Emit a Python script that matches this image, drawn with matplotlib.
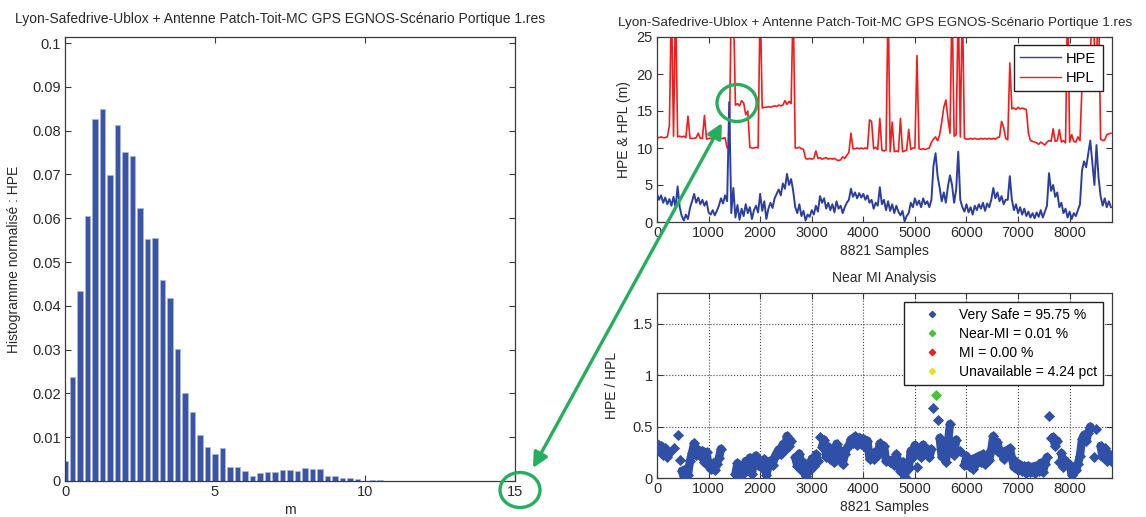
import numpy as np
import matplotlib
matplotlib.use('Agg')
import matplotlib.pyplot as plt
from matplotlib.patches import Ellipse, FancyArrowPatch
from matplotlib.lines import Line2D

plt.rcParams['font.family'] = ['Liberation Sans', 'DejaVu Sans']

TITLE = 'Lyon-Safedrive-Ublox + Antenne Patch-Toit-MC GPS EGNOS-Scénario Portique 1.res'

# ---------------- data ----------------
hist_bin_width = 0.25
hist_vals = [0.0046, 0.0237, 0.0434, 0.0605, 0.0827, 0.0849, 0.0698, 0.0812, 0.0751, 0.0742,
             0.0624, 0.0553, 0.0556, 0.0458, 0.0417, 0.0302, 0.0202, 0.0158, 0.0105, 0.0078,
             0.0061, 0.0076, 0.0031, 0.0033, 0.0022, 0.0012, 0.0018, 0.0020, 0.0020, 0.0025,
             0.0025, 0.0022, 0.0030, 0.0028, 0.0028, 0.0012, 0.0012, 0.0007, 0.0007, 0.0005,
             0.0001, 0.0002, 0.0002]
hist_yticklabels = ['0', '0.01', '0.02', '0.03', '0.04', '0.05', '0.06', '0.07', '0.08', '0.09', '0.1']

n_samples = 8821
sample_step = 40
hpe = [3.8, 3.0, 3.6, 2.6, 3.3, 2.4, 3.1, 2.2, 3.4, 2.0,
       4.8, 2.0, 0.8, 0.2, 1.0, 0.4, 1.9, 2.8, 3.8, 2.6,
       3.3, 2.4, 3.0, 2.2, 2.8, 1.3, 1.0, 1.6, 0.9, 1.5,
       2.2, 3.2, 2.5, 3.6, 2.8, 16.2, 1.2, 4.6, 0.6, 2.3,
       0.3, 1.8, 0.8, 2.4, 1.2, 2.0, 0.4, 1.6, 2.2, 1.3,
       3.8, 1.5, 2.8, 0.4, 1.8, 2.6, 1.9, 3.2, 3.8, 4.4,
       3.6, 5.2, 4.5, 6.5, 5.0, 5.8, 4.2, 2.0, 1.2, 2.4,
       0.8, 1.5, 0.2, 1.0, 0.7, 1.6, 1.0, 2.2, 1.4, 3.5,
       2.6, 3.2, 1.8, 2.6, 1.6, 2.4, 1.3, 2.8, 1.8, 2.2,
       1.2, 2.0, 2.6, 3.0, 4.5, 3.4, 4.0, 3.2, 3.9, 3.3,
       3.8, 3.0, 3.6, 2.6, 3.0, 1.8, 2.6, 2.2, 4.7, 2.4,
       3.0, 1.6, 2.8, 1.5, 2.4, 1.2, 2.2, 1.4, 0.9, 1.5,
       0.1, 0.8, 1.2, 2.6, 2.0, 3.2, 2.3, 2.9, 2.0, 3.2,
       2.4, 2.8, 2.0, 3.0, 7.6, 9.3, 6.2, 4.6, 2.8, 4.0,
       2.6, 4.8, 6.3, 5.0, 2.6, 4.4, 9.5, 3.0, 2.0, 1.4,
       2.4, 1.3, 2.0, 1.0, 2.2, 1.6, 2.4, 1.8, 2.6, 1.5,
       2.5, 2.0, 3.0, 4.6, 3.2, 4.0, 2.8, 3.5, 2.4, 3.0,
       3.0, 6.2, 3.0, 1.6, 2.4, 1.2, 2.0, 1.0, 1.8, 0.8,
       1.4, 0.6, 1.2, 0.5, 1.3, 0.7, 1.6, 0.6, 1.4, 2.2,
       6.6, 4.2, 5.0, 3.4, 4.0, 2.0, 2.6, 1.2, 1.8, 0.6,
       1.4, 0.4, 1.2, 0.8, 1.6, 2.4, 7.0, 8.2, 7.4, 9.2,
       11.0, 8.0, 5.0, 10.4, 6.0, 3.5, 2.2, 3.2, 2.0, 2.8,
       2.0]
hpl = [11.4, 11.4, 11.5, 11.4, 11.4, 11.5, 13.0, 30.0, 11.6, 30.0,
       11.5, 11.6, 11.5, 11.6, 11.4, 14.3, 11.3, 11.3, 11.3, 11.4,
       12.0, 11.3, 11.3, 14.4, 11.2, 11.3, 11.3, 11.3, 11.3, 11.4,
       11.3, 11.3, 11.3, 11.4, 10.0, 10.0, 30.0, 30.0, 15.8, 16.0,
       15.7, 16.4, 16.1, 14.5, 15.0, 10.1, 10.0, 10.0, 10.1, 10.0,
       30.0, 15.4, 15.5, 15.5, 15.6, 15.5, 15.6, 15.7, 15.6, 15.8,
       15.7, 15.8, 16.4, 15.9, 16.3, 16.0, 30.0, 10.0, 10.0, 10.1,
       9.9, 9.8, 8.6, 8.5, 8.6, 8.5, 8.6, 9.6, 8.6, 8.7,
       8.5, 8.6, 8.7, 8.5, 8.6, 8.5, 8.6, 8.4, 8.3, 8.4,
       8.8, 8.6, 9.0, 9.4, 12.0, 9.9, 9.9, 10.0, 9.9, 10.0,
       9.9, 10.0, 9.9, 13.8, 13.6, 9.9, 10.1, 9.8, 14.0, 9.7,
       9.6, 9.7, 30.0, 9.5, 13.5, 9.5, 9.6, 9.5, 14.0, 9.5,
       9.6, 9.7, 12.5, 9.8, 10.0, 10.0, 22.5, 9.9, 9.8, 9.9,
       9.8, 9.9, 10.0, 10.8, 11.2, 11.5, 11.0, 11.8, 13.5, 15.5,
       16.5, 14.0, 12.0, 30.0, 11.6, 11.8, 30.0, 11.5, 30.0, 11.3,
       11.2, 11.2, 11.3, 11.2, 11.3, 11.2, 11.2, 11.3, 11.2, 11.3,
       11.2, 11.3, 11.2, 11.3, 11.2, 11.4, 11.5, 13.6, 12.8, 11.3,
       11.1, 21.5, 15.3, 15.4, 15.2, 15.5, 15.3, 15.4, 15.3, 15.2,
       12.0, 11.0, 10.9, 10.8, 10.7, 10.5, 10.8, 10.6, 10.4, 10.8,
       11.0, 10.9, 12.6, 10.9, 11.0, 12.5, 10.8, 11.0, 10.7, 30.0,
       10.8, 11.8, 10.9, 10.8, 11.5, 11.0, 18.5, 19.5, 20.5, 21.0,
       22.0, 30.0, 24.0, 22.0, 30.0, 11.2, 11.0, 11.1, 11.8, 11.9,
       12.0]
unavailable_ranges = [(1250, 1460)]
hpl_unavailable_above = 25.0
near_mi_ratio = 0.75
mi_ratio = 1.0
legend_near_mi = ['Very Safe = 95.75 %', 'Near-MI = 0.01 %', 'MI = 0.00 %', 'Unavailable = 4.24 pct']

# ---------------- figure ----------------
W, H = 1146, 517
fig = plt.figure(figsize=(W / 100, H / 100), dpi=100)
AX_COL = '#3a3a3a'
TXT = '#2a2a2a'
BAR = '#3B54A5'
BLUE = '#2C3F9E'
RED = '#F21C1C'
GREEN = '#25AE5E'
SAFE = '#3050A8'


def px_axes(x0, y0, x1, y1):
    return fig.add_axes([x0 / W, 1 - y1 / H, (x1 - x0) / W, (y1 - y0) / H])


def style(ax):
    for sp in ax.spines.values():
        sp.set_color(AX_COL)
        sp.set_linewidth(0.9)
    ax.tick_params(direction='in', top=True, right=True, length=4, width=0.8,
                   colors=AX_COL, labelcolor=TXT, labelsize=10.5, pad=3)


# Left: histogram
ax1 = px_axes(65, 37, 515, 481)
centers = np.arange(len(hist_vals)) * hist_bin_width
ax1.bar(centers, hist_vals, width=hist_bin_width * 0.72, color=BAR,
        edgecolor='#A9B6DE', linewidth=0.5, zorder=2)
ax1.set_xlim(0, 15)
ax1.set_ylim(0, 0.1014)
ax1.set_xticks([0, 5, 10, 15])
ax1.set_yticks(np.linspace(0, 0.1, 11))
ax1.set_yticklabels(hist_yticklabels)
style(ax1)
ax1.set_title(TITLE, fontsize=10, color=TXT, pad=10, x=0.477)
ax1.set_xlabel('m', fontsize=10, color=TXT, labelpad=3)
ax1.set_ylabel('Histogramme normalisé : HPE', fontsize=10, color=TXT, labelpad=8)

# Top right: HPE & HPL
s = np.arange(len(hpe)) * sample_step
hpe_a = np.array(hpe)
hpl_a = np.array(hpl)
ax2 = px_axes(657, 37, 1112, 222)
ax2.plot(s, hpl_a, color=RED, lw=1.2, zorder=2)
ax2.plot(s, hpe_a, color=BLUE, lw=1.4, zorder=3)
ax2.set_xlim(0, n_samples)
ax2.set_ylim(0, 25)
ax2.set_xticks(range(0, 8001, 1000))
ax2.set_yticks([0, 5, 10, 15, 20, 25])
style(ax2)
ax2.set_title(TITLE, fontsize=9.7, color=TXT, pad=8, x=0.479)
ax2.set_xlabel('%d Samples' % n_samples, fontsize=10, color=TXT, labelpad=3)
ax2.set_ylabel('HPE & HPL (m)', fontsize=10, color=TXT, labelpad=4)
leg2 = ax2.legend([Line2D([], [], color=BLUE, lw=1), Line2D([], [], color=RED, lw=1)],
                  ['HPE', 'HPL'], loc='upper right', bbox_to_anchor=(0.98, 0.957),
                  borderaxespad=0, fancybox=False, framealpha=1, edgecolor='#222222',
                  fontsize=10.5, handlelength=2.8, handletextpad=0.35, labelspacing=0.35,
                  borderpad=0.45)
leg2.get_frame().set_linewidth(1.0)
leg2.set_zorder(5)

# Bottom right: ratio scatter
ratio = hpe_a / hpl_a
avail = hpl_a < hpl_unavailable_above
for a, b in unavailable_ranges:
    avail &= ~((s >= a) & (s <= b))
safe = avail & (ratio < near_mi_ratio)
near = avail & (ratio >= near_mi_ratio) & (ratio < mi_ratio)
mi = avail & (ratio >= mi_ratio)

ax3 = px_axes(657, 293, 1112, 478)
ax3.grid(True, linestyle=':', color='#444444', linewidth=0.8)
ax3.set_axisbelow(True)
# dense band: join neighbouring safe points (break on gaps or big jumps)
band = np.where(safe, ratio, np.nan)
jump = np.zeros(len(band), dtype=bool)
jump[1:] = np.abs(np.diff(ratio)) > 0.2
band[jump] = np.nan
ax3.plot(s, band, color=SAFE, lw=6.0, solid_capstyle='round', solid_joinstyle='round', zorder=2)
mk = dict(marker='D', linestyle='none', markersize=4.8, markeredgewidth=0.6, zorder=3)
ax3.plot(s[safe], ratio[safe], color=SAFE, **mk)
ax3.plot(s[near], ratio[near], color='#4CC23A', **mk)
ax3.plot(s[mi], ratio[mi], color='#E82020', **mk)
ax3.set_xlim(0, n_samples)
ax3.set_ylim(0, 1.8)
ax3.set_xticks(range(0, 8001, 1000))
ax3.set_yticks([0, 0.5, 1, 1.5])
ax3.set_yticklabels(['0', '0.5', '1', '1.5'])
style(ax3)
ax3.set_title('Near MI Analysis', fontsize=10, color=TXT, pad=8)
ax3.set_xlabel('%d Samples' % n_samples, fontsize=10, color=TXT, labelpad=3)
ax3.set_ylabel('HPE / HPL', fontsize=10, color=TXT, labelpad=10)
hmk = dict(marker='D', linestyle='none', markersize=3.2)
leg3 = ax3.legend([Line2D([], [], color=SAFE, **hmk), Line2D([], [], color='#4CC23A', **hmk),
                   Line2D([], [], color='#E82020', **hmk), Line2D([], [], color='#E8E020', **hmk)],
                  legend_near_mi, loc='upper right', bbox_to_anchor=(0.98, 0.951),
                  borderaxespad=0, fancybox=False, framealpha=1, edgecolor='#222222',
                  fontsize=10, handlelength=3.2, handletextpad=0.3, labelspacing=0.35,
                  borderpad=0.45)
leg3.get_frame().set_linewidth(1.0)
leg3.set_zorder(5)

# Green annotations (figure pixel coordinates)
def fxy(x, y):
    return (x / W, 1 - y / H)

for cx, cy, w, h in [(520, 490, 40, 35), (737, 103, 40, 37)]:
    e = Ellipse(fxy(cx, cy), w / W, h / H, transform=fig.transFigure, fill=False,
                edgecolor=GREEN, linewidth=2.4, zorder=10)
    fig.add_artist(e)

arr = FancyArrowPatch(fxy(533, 468), fxy(722, 123), transform=fig.transFigure,
                      arrowstyle='<|-|>,head_length=9,head_width=4.5', color=GREEN,
                      linewidth=2.4, shrinkA=0, shrinkB=0, zorder=10)
fig.add_artist(arr)

fig.savefig('out.png', dpi=100)
